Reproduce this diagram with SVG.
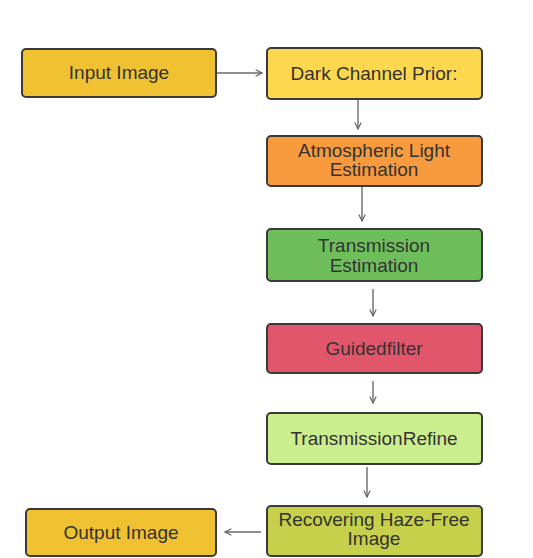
<svg xmlns="http://www.w3.org/2000/svg" width="533" height="558" viewBox="0 0 533 558">
<defs>
<marker id="ah" viewBox="0 0 10 10" refX="9" refY="5" markerWidth="8" markerHeight="8" orient="auto" markerUnits="userSpaceOnUse">
<path d="M1,1 L9,5 L1,9" fill="none" stroke="#666" stroke-width="1.5"/>
</marker>
<style>
.box{stroke:#3a3a3a;stroke-width:2}
.t{font-family:"Liberation Sans",Arial,sans-serif;font-size:19px;text-anchor:middle;fill:#333}
.c{stroke:#6a6a6a;stroke-width:1.4;fill:none;marker-end:url(#ah)}
</style>
</defs>
<rect width="533" height="558" fill="#fff"/>
<g id="connectors">
<line class="c" x1="216" y1="73" x2="262" y2="73"/>
<line class="c" x1="358" y1="100" x2="358" y2="129"/>
<line class="c" x1="362" y1="187" x2="362" y2="221"/>
<line class="c" x1="373" y1="289" x2="373" y2="316"/>
<line class="c" x1="373" y1="381" x2="373" y2="403"/>
<line class="c" x1="367" y1="467" x2="367" y2="497"/>
<line class="c" x1="261" y1="532" x2="225" y2="532"/>
</g>
<g id="input">
<rect class="box" x="22" y="49" width="194" height="48" rx="4" fill="#f0c232"/>
<text class="t" x="119" y="79" fill="#3a3208">Input Image</text>
</g>
<g id="dcp">
<rect class="box" x="267" y="48" width="215" height="51" rx="4" fill="#fdd84e"/>
<text class="t" x="374" y="80" fill="#3a3208">Dark Channel Prior:</text>
</g>
<g id="atmos">
<rect class="box" x="267" y="136" width="215" height="50" rx="4" fill="#f89a3e"/>
<text class="t" x="374" y="157" fill="#4a2a10">Atmospheric Light</text>
<text class="t" x="374" y="176" fill="#4a2a10">Estimation</text>
</g>
<g id="trans">
<rect class="box" x="267" y="229" width="215" height="52" rx="4" fill="#6fbe5c"/>
<text class="t" x="374" y="252" fill="#1f4a16">Transmission</text>
<text class="t" x="374" y="272" fill="#1f4a16">Estimation</text>
</g>
<g id="guided">
<rect class="box" x="267" y="324" width="215" height="49" rx="4" fill="#e2566c"/>
<text class="t" x="374" y="355" fill="#5a1420">Guidedfilter</text>
</g>
<g id="refine">
<rect class="box" x="267" y="413" width="215" height="51" rx="4" fill="#cbee8f"/>
<text class="t" x="374" y="445" fill="#1e3010">TransmissionRefine</text>
</g>
<g id="recover">
<rect class="box" x="267" y="506" width="215" height="50" rx="4" fill="#c6d04a"/>
<text class="t" x="374" y="526" fill="#2f3a0a">Recovering Haze-Free</text>
<text class="t" x="374" y="545" fill="#2f3a0a">Image</text>
</g>
<g id="output">
<rect class="box" x="26" y="509" width="190" height="47" rx="4" fill="#f0c232"/>
<text class="t" x="121" y="539" fill="#3a3208">Output Image</text>
</g>
</svg>
